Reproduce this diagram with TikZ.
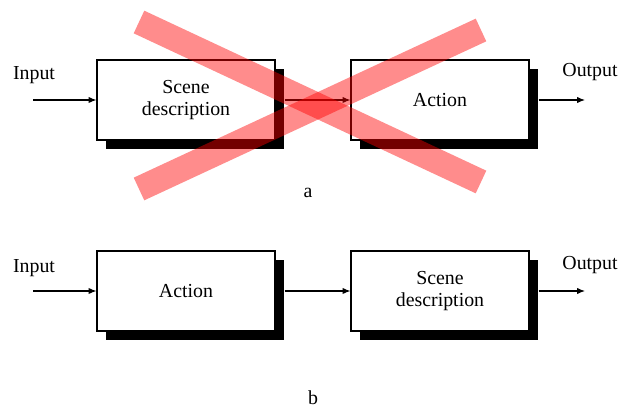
\documentclass[tikz,border=0pt]{standalone}
\usepackage{fontspec}
\setmainfont{Liberation Serif}
\usetikzlibrary{positioning,shadows,arrows.meta}

\tikzset{
  block/.style={draw, line width=0.6pt, fill=white, minimum width=3.56cm,
    minimum height=1.6cm, align=center,
    drop shadow={shadow xshift=0.18cm, shadow yshift=-0.18cm, opacity=1, fill=black}},
  flow/.style={-{Latex[length=4.5pt,width=3.6pt]}, line width=0.6pt},
  cross/.style={line width=0.5cm, red, opacity=0.45},
}

\begin{document}
\begin{tikzpicture}[x=0.02cm,y=-0.02cm,font=\rmfamily\fontsize{11.3}{12.5}\selectfont]
	\useasboundingbox (0,0) rectangle (625,408);

	% Part a
	\node[block] (scenea) at (186,100) {Scene\\description};
	\node[block] (actiona) at (440,100) {Action};
	\node (inputa) at (34,75) {Input};
	\node (outputa) at (590,72) {Output};
	\coordinate (ina) at (33,100);
	\coordinate (outa) at (585,100);
	\draw[flow] (ina) -- (scenea.west);
	\draw[flow] ([xshift=0.18cm]scenea.east) -- (actiona.west);
	\draw[flow] ([xshift=0.18cm]actiona.east) -- (outa);
	\node (capa) at (308,193) {a};

	% Part b
	\node[block] (actionb) at (186,291) {Action};
	\node[block] (sceneb) at (440,291) {Scene\\description};
	\node (inputb) at (34,268) {Input};
	\node (outputb) at (590,265) {Output};
	\coordinate (inb) at (33,291);
	\coordinate (outb) at (585,291);
	\draw[flow] (inb) -- (actionb.west);
	\draw[flow] ([xshift=0.18cm]actionb.east) -- (sceneb.west);
	\draw[flow] ([xshift=0.18cm]sceneb.east) -- (outb);
	\node (capb) at (313,398) {b};

	% Red cross over part a
	\draw[cross] (139,22) -- (481,182);
	\draw[cross] (139,189) -- (481,30);
\end{tikzpicture}
\end{document}
